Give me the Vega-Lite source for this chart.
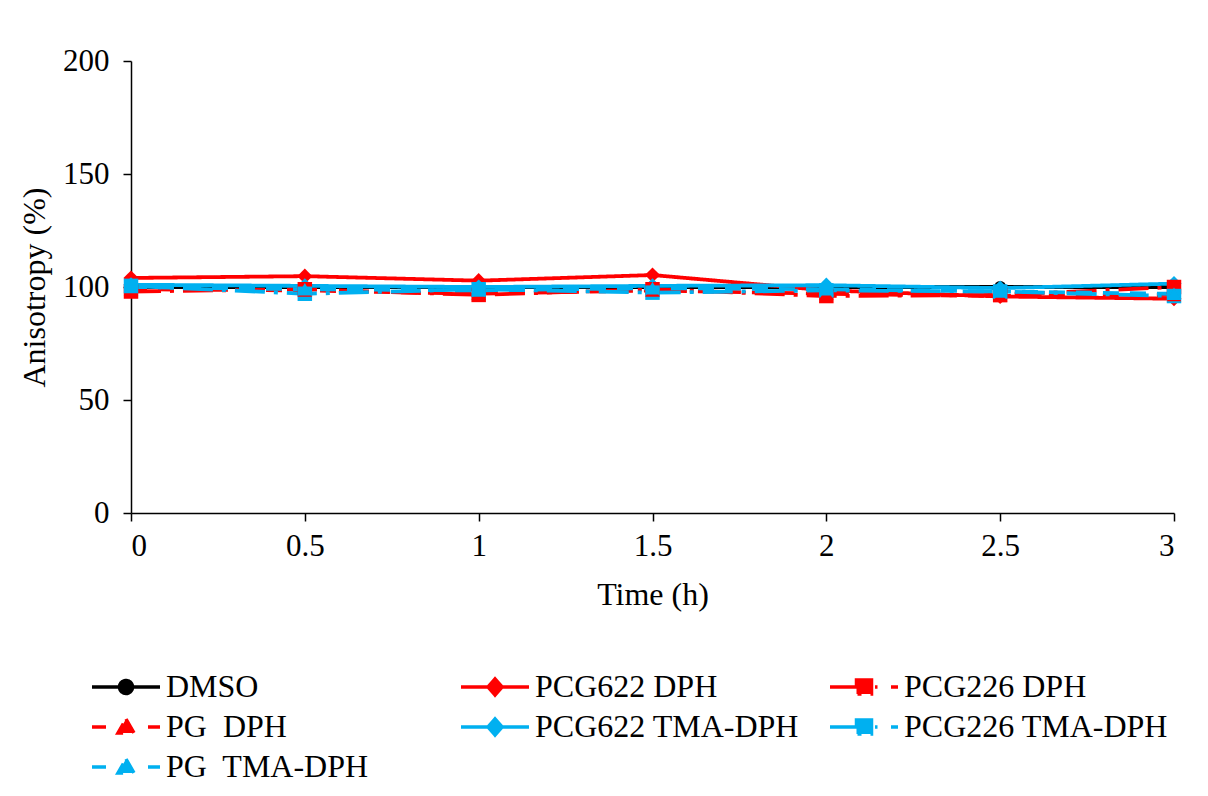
{
  "$schema": "https://vega.github.io/schema/vega-lite/v6.json",
  "width": 1043,
  "height": 452,
  "autosize": "none",
  "padding": {"left": 131, "top": 61, "right": 34, "bottom": 283},
  "background": "white",
  "config": {
    "view": {"stroke": null},
    "font": "Liberation Serif",
    "axis": {
      "grid": false,
      "domainColor": "#000000",
      "domainWidth": 1.5,
      "tickColor": "#000000",
      "tickWidth": 1.5,
      "tickSize": 8,
      "labelFont": "Liberation Serif",
      "labelFontSize": 31,
      "labelColor": "#000000",
      "titleFont": "Liberation Serif",
      "titleFontSize": 32,
      "titleFontWeight": "normal",
      "titleColor": "#000000"
    }
  },
  "data": {
    "values": [
      {"t": 0, "series": "DMSO", "v": 100},
      {"t": 0.5, "series": "DMSO", "v": 100},
      {"t": 1, "series": "DMSO", "v": 100},
      {"t": 1.5, "series": "DMSO", "v": 100},
      {"t": 2, "series": "DMSO", "v": 100},
      {"t": 2.5, "series": "DMSO", "v": 100},
      {"t": 3, "series": "DMSO", "v": 100},
      {"t": 0, "series": "PCG622 DPH", "v": 104},
      {"t": 0.5, "series": "PCG622 DPH", "v": 104.8},
      {"t": 1, "series": "PCG622 DPH", "v": 102.8},
      {"t": 1.5, "series": "PCG622 DPH", "v": 105.3},
      {"t": 2, "series": "PCG622 DPH", "v": 98.5},
      {"t": 2.5, "series": "PCG622 DPH", "v": 95.8},
      {"t": 3, "series": "PCG622 DPH", "v": 94.8},
      {"t": 0, "series": "PCG226 DPH", "v": 98},
      {"t": 0.5, "series": "PCG226 DPH", "v": 99},
      {"t": 1, "series": "PCG226 DPH", "v": 96.5},
      {"t": 1.5, "series": "PCG226 DPH", "v": 99},
      {"t": 2, "series": "PCG226 DPH", "v": 96},
      {"t": 2.5, "series": "PCG226 DPH", "v": 96.5},
      {"t": 3, "series": "PCG226 DPH", "v": 100},
      {"t": 0, "series": "PG\u00a0 DPH", "v": 99},
      {"t": 0.5, "series": "PG\u00a0 DPH", "v": 98.5},
      {"t": 1, "series": "PG\u00a0 DPH", "v": 97},
      {"t": 1.5, "series": "PG\u00a0 DPH", "v": 98.5},
      {"t": 2, "series": "PG\u00a0 DPH", "v": 97},
      {"t": 2.5, "series": "PG\u00a0 DPH", "v": 96},
      {"t": 3, "series": "PG\u00a0 DPH", "v": 96.5},
      {"t": 0, "series": "PCG622 TMA-DPH", "v": 101},
      {"t": 0.5, "series": "PCG622 TMA-DPH", "v": 100.5},
      {"t": 1, "series": "PCG622 TMA-DPH", "v": 100},
      {"t": 1.5, "series": "PCG622 TMA-DPH", "v": 100.5},
      {"t": 2, "series": "PCG622 TMA-DPH", "v": 100.8},
      {"t": 2.5, "series": "PCG622 TMA-DPH", "v": 99.5},
      {"t": 3, "series": "PCG622 TMA-DPH", "v": 101.5},
      {"t": 0, "series": "PCG226 TMA-DPH", "v": 100.5},
      {"t": 0.5, "series": "PCG226 TMA-DPH", "v": 97},
      {"t": 1, "series": "PCG226 TMA-DPH", "v": 99},
      {"t": 1.5, "series": "PCG226 TMA-DPH", "v": 97.5},
      {"t": 2, "series": "PCG226 TMA-DPH", "v": 98.5},
      {"t": 2.5, "series": "PCG226 TMA-DPH", "v": 98},
      {"t": 3, "series": "PCG226 TMA-DPH", "v": 96},
      {"t": 0, "series": "PG\u00a0 TMA-DPH", "v": 100},
      {"t": 0.5, "series": "PG\u00a0 TMA-DPH", "v": 99},
      {"t": 1, "series": "PG\u00a0 TMA-DPH", "v": 98.5},
      {"t": 1.5, "series": "PG\u00a0 TMA-DPH", "v": 99.5},
      {"t": 2, "series": "PG\u00a0 TMA-DPH", "v": 99},
      {"t": 2.5, "series": "PG\u00a0 TMA-DPH", "v": 98},
      {"t": 3, "series": "PG\u00a0 TMA-DPH", "v": 97}
    ]
  },
  "encoding": {
    "x": {
      "field": "t", "type": "quantitative", "title": "Time (h)",
      "scale": {"domain": [0, 3], "nice": false, "zero": false},
      "axis": {"values": [0, 0.5, 1, 1.5, 2, 2.5, 3], "format": "~g", "labelPadding": 10, "titlePadding": 18}
    },
    "y": {
      "field": "v", "type": "quantitative", "title": "Anisotropy (%)",
      "scale": {"domain": [0, 200], "nice": false},
      "axis": {"values": [0, 50, 100, 150, 200], "labelPadding": 14, "titlePadding": 11}
    },
    "color": {
      "field": "series", "type": "nominal", "sort": null,
      "scale": {
        "domain": ["DMSO", "PCG622 DPH", "PCG226 DPH", "PG\u00a0 DPH", "PCG622 TMA-DPH", "PCG226 TMA-DPH", "PG\u00a0 TMA-DPH"],
        "range": ["#000000", "#FF0000", "#FF0000", "#FF0000", "#00B0F0", "#00B0F0", "#00B0F0"]
      }
    }
  },
  "layer": [
    {
      "mark": {"type": "point", "filled": true, "opacity": 0, "size": 1},
      "encoding": {
        "color": {
          "field": "series", "type": "nominal", "sort": null,
          "scale": {
            "domain": ["DMSO", "PCG622 DPH", "PCG226 DPH", "PG\u00a0 DPH", "PCG622 TMA-DPH", "PCG226 TMA-DPH", "PG\u00a0 TMA-DPH"],
            "range": ["#000000", "#FF0000", "#FF0000", "#FF0000", "#00B0F0", "#00B0F0", "#00B0F0"]
          },
          "legend": {
            "title": null,
            "orient": "none",
            "legendX": -45,
            "legendY": 610,
            "columns": 3,
            "direction": "horizontal",
            "gridAlign": "all",
            "columnPadding": 23,
            "rowPadding": 8,
            "padding": 0,
            "symbolSize": 400,
            "symbolOpacity": 1,
            "symbolStrokeWidth": 3.5,
            "labelFont": "Liberation Serif",
            "labelFontSize": 32,
            "labelColor": "#000000",
            "labelOffset": 48,
            "labelLimit": 0,
            "encode": {
              "symbols": {
                "update": {
                  "stroke": {"scale": "color", "field": "value"},
                  "fill": {"scale": "color", "field": "value"},
                  "opacity": {"value": 1},
                  "strokeWidth": {"value": 3.5}
                }
              }
            }
          }
        },
        "shape": {
          "field": "series", "type": "nominal", "sort": null,
          "scale": {
            "domain": ["DMSO", "PCG622 DPH", "PCG226 DPH", "PG\u00a0 DPH", "PCG622 TMA-DPH", "PCG226 TMA-DPH", "PG\u00a0 TMA-DPH"],
            "range": [
              "M-1,0L5.8,0M1.75,0a0.65,0.65 0 1,0 1.3,0a0.65,0.65 0 1,0 -1.3,0Z",
              "M-1,0L5.8,0M2.4,-0.8L3.1,0L2.4,0.8L1.7,0Z",
              "M-1,0L1.7,0M1.65,-0.7L3.15,-0.7L3.15,0.7L1.65,0.7ZM3.5,0L3.75,0M5.1,0L5.8,0",
              "M-1,0L0.4,0M4.6,0L5.8,0M2.4,-0.8L3.2,0.6L1.6,0.6Z",
              "M-1,0L5.8,0M2.4,-0.8L3.1,0L2.4,0.8L1.7,0Z",
              "M-1,0L1.7,0M1.65,-0.7L3.15,-0.7L3.15,0.7L1.65,0.7ZM3.5,0L3.75,0M5.1,0L5.8,0",
              "M-1,0L0.4,0M4.6,0L5.8,0M2.4,-0.8L3.2,0.6L1.6,0.6Z"
            ]
          }
        }
      }
    },
    {
      "mark": {"type": "line", "strokeWidth": 3.8},
      "encoding": {
        "strokeDash": {
          "field": "series", "type": "nominal", "sort": null,
          "scale": {
            "domain": ["DMSO", "PCG622 DPH", "PCG226 DPH", "PG\u00a0 DPH", "PCG622 TMA-DPH", "PCG226 TMA-DPH", "PG\u00a0 TMA-DPH"],
            "range": [[1, 0], [1, 0], [30, 9, 4, 9], [16, 11], [1, 0], [30, 9, 4, 9], [16, 11]]
          },
          "legend": null
        }
      }
    },
    {
      "transform": [{"filter": "datum.series == 'DMSO'"}],
      "mark": {"type": "point", "filled": true, "opacity": 1, "shape": "circle", "size": 150}
    },
    {
      "transform": [{"filter": "indexof(datum.series, 'PCG622') == 0"}],
      "mark": {"type": "point", "filled": true, "opacity": 1, "shape": "diamond", "size": 230}
    },
    {
      "transform": [{"filter": "indexof(datum.series, 'PCG226') == 0"}],
      "mark": {"type": "point", "filled": true, "opacity": 1, "shape": "square", "size": 210}
    },
    {
      "transform": [{"filter": "indexof(datum.series, 'PG') == 0 && indexof(datum.series, 'PCG') != 0"}],
      "mark": {"type": "point", "filled": true, "opacity": 1, "shape": "triangle-up", "size": 210}
    }
  ]
}
